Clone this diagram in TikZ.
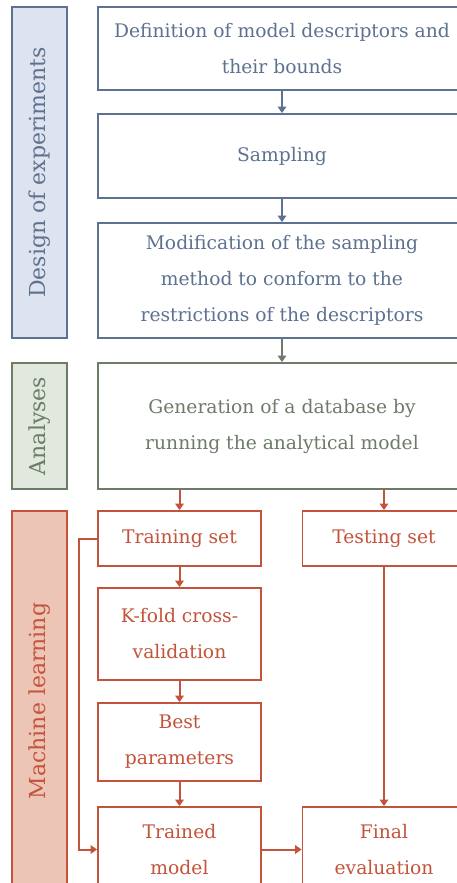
\documentclass[tikz,border=0pt]{standalone}
\usepackage{fontspec}
\setmainfont{DejaVu Serif}
\usetikzlibrary{arrows.meta}

\begin{document}
\begin{tikzpicture}[x=1pt, y=-1pt, >={Triangle[width=8.5pt,length=6.5pt]}]

	\def\bw{368}
	\def\sw{163}
	\def\barw{55}

	% Colours
	\definecolor{doecolor}{HTML}{5D7291}
	\definecolor{doefill}{HTML}{DDE4EF}
	\definecolor{ancolor}{HTML}{6D7B68}
	\definecolor{anfill}{HTML}{E1E8DE}
	\definecolor{mlcolor}{HTML}{C4533B}
	\definecolor{mlfill}{HTML}{ECC5B6}

	% Styles
	\tikzset{
		box/.style={draw=#1, text=#1, fill=white, line width=1.8pt, align=center, inner sep=0pt,
			font=\fontsize{18.7}{36}\selectfont},
		sidebar/.style 2 args={draw=#1, text=#1, fill=#2, line width=1.8pt, rotate=90,
			minimum height=\barw, inner sep=0pt, font=\fontsize{22}{26}\selectfont},
		link/.style={->, draw=#1, line width=2pt}
	}

	\useasboundingbox (0,0) rectangle (457,883);
	\clip (0,0) rectangle (457,883);

	% Side bars
	\node[sidebar={doecolor}{doefill}, minimum width=331] (doe) at (39.5,172.5) {Design of experiments};
	\node[sidebar={ancolor}{anfill}, minimum width=126] (an) at (39.5,426) {Analyses};
	\node[sidebar={mlcolor}{mlfill}, minimum width=380] (ml) at (39.5,701) {Machine learning};

	% Design of experiments
	\node[box=doecolor, minimum width=\bw, minimum height=83] (def) at (282,48.5)
		{Definition of model descriptors and\\their bounds};
	\node[box=doecolor, minimum width=\bw, minimum height=84] (samp) at (282,156) {Sampling};
	\node[box=doecolor, minimum width=\bw, minimum height=115] (modif) at (282,280.5)
		{Modification of the sampling\\method to conform to the\\restrictions of the descriptors};

	% Analyses
	\node[box=ancolor, minimum width=\bw, minimum height=126] (gen) at (282,426)
		{Generation of a database by\\running the analytical model};

	% Machine learning
	\node[box=mlcolor, minimum width=\sw, minimum height=55] (train) at (179.5,538.5) {Training set};
	\node[box=mlcolor, minimum width=\sw, minimum height=55] (test) at (384,538.5) {Testing set};
	\node[box=mlcolor, minimum width=\sw, minimum height=92] (kfold) at (179.5,634) {K-fold cross-\\validation};
	\node[box=mlcolor, minimum width=\sw, minimum height=78] (best) at (179.5,742) {Best\\parameters};
	\node[box=mlcolor, minimum width=\sw, minimum height=85] (trained) at (179.5,849.5) {Trained\\model};
	\node[box=mlcolor, minimum width=\sw, minimum height=85] (final) at (384,849.5) {Final\\evaluation};

	% Links
	\draw[link=doecolor] (def) -- (samp);
	\draw[link=doecolor] (samp) -- (modif);
	\draw[link=ancolor] (modif) -- (gen);
	\draw[link=mlcolor] (gen.south -| train) -- (train);
	\draw[link=mlcolor] (gen.south -| test) -- (test);
	\draw[link=mlcolor] (train) -- (kfold);
	\draw[link=mlcolor] (kfold) -- (best);
	\draw[link=mlcolor] (best) -- (trained);
	\draw[link=mlcolor] (test) -- (final);
	\draw[link=mlcolor] (trained) -- (final);
	\draw[link=mlcolor] (train.west) -- ++(-18,0) |- (trained.west);

\end{tikzpicture}
\end{document}
